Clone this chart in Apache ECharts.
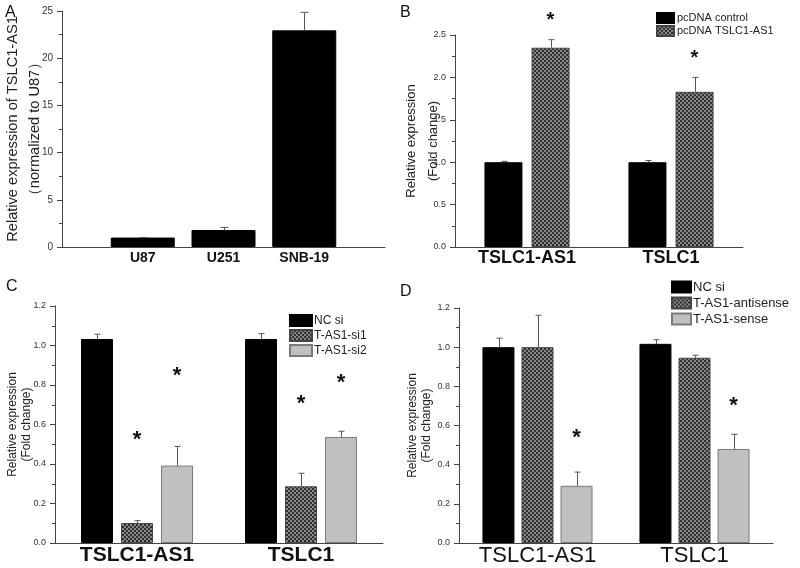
<!DOCTYPE html>
<html><head><meta charset="utf-8">
<script src="https://cdn.jsdelivr.net/npm/echarts@6/dist/echarts.min.js"></script>
<style>html,body{margin:0;padding:0;background:#fff}#c{width:800px;height:568px}</style>
</head><body><div id="c"></div>
<script>
// ---------- Panel A ----------
const catsA = ['U87', 'U251', 'SNB-19'];
const valsA = [1.0, 1.8, 22.95];
const errTopA = [1.0, 2.08, 24.86];
// ---------- Panel B ----------
const catsB = ['TSLC1-AS1', 'TSLC1'];
const namesB = ['pcDNA control', 'pcDNA TSLC1-AS1'];
const ctrlB = [1.0, 1.0];
const ctrlErrB = [1.01, 1.02];
const as1B = [2.35, 1.83];
const as1ErrB = [2.445, 2.0];
const starsB = [2.72, 2.27];
// ---------- Panel C ----------
const catsC = ['TSLC1-AS1', 'TSLC1'];
const namesC = ['NC si', 'T-AS1-si1', 'T-AS1-si2'];
const ncC = [1.033, 1.033];
const ncErrC = [1.057, 1.06];
const si1C = [0.101, 0.287];
const si1ErrC = [0.113, 0.353];
const si2C = [0.392, 0.537];
const si2ErrC = [0.489, 0.566];
const starsSi1C = [0.542, 0.726];
const starsSi2C = [0.869, 0.832];
// ---------- Panel D ----------
const catsD = ['TSLC1-AS1', 'TSLC1'];
const namesD = ['NC si', 'T-AS1-antisense', 'T-AS1-sense'];
const ncD = [1.0, 1.017];
const ncErrD = [1.046, 1.038];
const antiD = [1.0, 0.946];
const antiErrD = [1.163, 0.959];
const senseD = [0.292, 0.48];
const senseErrD = [0.362, 0.555];
const starsSenseD = [0.557, 0.722];

const FONT = '"Liberation Sans", Arial, sans-serif';

function checker() {
  const c = document.createElement('canvas');
  c.width = 4; c.height = 4;
  const g = c.getContext('2d');
  g.fillStyle = '#888888'; g.fillRect(0, 0, 4, 4);
  g.fillStyle = '#303030'; g.fillRect(0, 0, 2, 2); g.fillRect(2, 2, 2, 2);
  return c;
}
const PATTERN = { image: checker(), repeat: 'repeat' };
const BLACK = { color: '#000', borderColor: '#000', borderWidth: 1 };
const CHECK = { color: PATTERN, borderColor: '#444', borderWidth: 1 };
const GRAY = { color: '#c0c0c0', borderColor: '#7a7a7a', borderWidth: 1 };

function errSeries(idx, cats, vals, tops, offset, capW, shift) {
  return {
    type: 'custom', xAxisIndex: idx, yAxisIndex: idx, silent: true, z: 3,
    data: cats.map((c, i) => [i + (shift || 0), vals[i], tops[i]]),
    encode: { x: 0, y: [1, 2] },
    renderItem: function (params, api) {
      const lo = api.coord([api.value(0), api.value(1)]);
      const hi = api.coord([api.value(0), api.value(2)]);
      const x = Math.round(lo[0] + offset) + 0.5;
      const st = { stroke: '#555', lineWidth: 1 };
      return { type: 'group', children: [
        { type: 'line', shape: { x1: x, y1: lo[1], x2: x, y2: hi[1] }, style: st },
        { type: 'line', shape: { x1: x - capW / 2, y1: hi[1], x2: x + capW / 2, y2: hi[1] }, style: st }
      ]};
    }
  };
}
function starSeries(idx, cats, ys, offset, fs) {
  return {
    type: 'custom', xAxisIndex: idx, yAxisIndex: idx, silent: true, z: 4,
    data: cats.map((c, i) => [i, ys[i]]),
    encode: { x: 0, y: 1 },
    renderItem: function (params, api) {
      const p = api.coord([api.value(0), api.value(1)]);
      return { type: 'text', x: p[0] + offset, y: p[1] + fs * 0.2,
        style: { text: '*', fontSize: fs, fontWeight: 'bold', fontFamily: FONT, fill: '#111', align: 'center', verticalAlign: 'middle' } };
    }
  };
}
function yAx(idx, max, interval, dec, name, nameSize, lh, gap, labelSize) {
  return {
    gridIndex: idx, type: 'value', min: 0, max: max, interval: interval,
    name: name, nameLocation: 'middle', nameRotate: 90, nameGap: gap, nameMoveOverlap: false,
    nameTextStyle: { fontSize: nameSize, lineHeight: lh, fontFamily: FONT, color: '#222' },
    axisLine: { show: true, lineStyle: { color: '#444', width: 1 } },
    axisTick: { show: true, length: 5, lineStyle: { color: '#444' } },
    minorTick: { show: true, splitNumber: 2, length: 3, lineStyle: { color: '#444' } },
    splitLine: { show: false }, minorSplitLine: { show: false },
    axisLabel: { fontSize: labelSize, fontFamily: FONT, color: '#333', margin: 9,
      formatter: v => dec ? v.toFixed(dec) : String(v) }
  };
}
function xAx(idx, data, fs, bold, margin, boundaryGap) {
  return {
    gridIndex: idx, type: 'category', data: data, boundaryGap: boundaryGap,
    axisLine: { show: true, lineStyle: { color: '#444', width: 1 } },
    axisTick: { show: false }, splitLine: { show: false },
    axisLabel: { fontSize: fs, fontWeight: bold ? 'bold' : 'normal', fontFamily: FONT, color: '#111', margin: margin, interval: 0 }
  };
}

const chart = echarts.init(document.getElementById('c'), null, { renderer: 'canvas' });

const catsAPadded = [''].concat(catsA, ['']);
const valsAPadded = ['-'].concat(valsA, ['-']);

const series = [
  // A
  { type: 'bar', name: 'A', xAxisIndex: 0, yAxisIndex: 0, data: valsAPadded, barWidth: 64, itemStyle: BLACK },
  errSeries(0, catsA, valsA, errTopA, 0, 8, 1),
  // B
  { type: 'bar', name: namesB[0], xAxisIndex: 1, yAxisIndex: 1, data: ctrlB, barWidth: 38, barGap: '24%', itemStyle: BLACK },
  { type: 'bar', name: namesB[1], xAxisIndex: 1, yAxisIndex: 1, data: as1B, barWidth: 38, barGap: '24%', itemStyle: CHECK },
  errSeries(1, catsB, ctrlB, ctrlErrB, -23.5, 6),
  errSeries(1, catsB, as1B, as1ErrB, 23.5, 6),
  starSeries(1, catsB, starsB, 23.5, 20),
  // C
  { type: 'bar', name: namesC[0], xAxisIndex: 2, yAxisIndex: 2, data: ncC, barWidth: 32, barGap: '25%', itemStyle: BLACK },
  { type: 'bar', name: namesC[1], xAxisIndex: 2, yAxisIndex: 2, data: si1C, barWidth: 32, barGap: '25%', itemStyle: CHECK },
  { type: 'bar', name: namesC[2], xAxisIndex: 2, yAxisIndex: 2, data: si2C, barWidth: 32, barGap: '25%', itemStyle: GRAY },
  errSeries(2, catsC, ncC, ncErrC, -40, 6),
  errSeries(2, catsC, si1C, si1ErrC, 0, 6),
  errSeries(2, catsC, si2C, si2ErrC, 40, 6),
  starSeries(2, catsC, starsSi1C, 0, 22),
  starSeries(2, catsC, starsSi2C, 40, 22),
  // D
  { type: 'bar', name: namesD[0], xAxisIndex: 3, yAxisIndex: 3, data: ncD, barWidth: 32, barGap: '22%', itemStyle: BLACK },
  { type: 'bar', name: namesD[1], xAxisIndex: 3, yAxisIndex: 3, data: antiD, barWidth: 32, barGap: '22%', itemStyle: CHECK },
  { type: 'bar', name: namesD[2], xAxisIndex: 3, yAxisIndex: 3, data: senseD, barWidth: 32, barGap: '22%', itemStyle: GRAY },
  errSeries(3, catsD, ncD, ncErrD, -39, 6),
  errSeries(3, catsD, antiD, antiErrD, 0, 6),
  errSeries(3, catsD, senseD, senseErrD, 39, 6),
  starSeries(3, catsD, starsSenseD, 39, 22)
];

const option = {
  animation: false,
  backgroundColor: '#fff',
  textStyle: { fontFamily: FONT },
  grid: [
    { left: 62, top: 11, width: 323, height: 236 },
    { left: 455, top: 35, width: 288, height: 212 },
    { left: 55, top: 306, width: 328, height: 237 },
    { left: 459, top: 308, width: 314, height: 235 }
  ],
  xAxis: [
    xAx(0, catsAPadded, 14, true, 4, false),
    xAx(1, catsB, 18, true, 2, true),
    xAx(2, catsC, 21, true, 2, true),
    xAx(3, catsD, 22, false, 2, true)
  ],
  yAxis: [
    yAx(0, 25, 5, 0, 'Relative expression of TSLC1-AS1\n（normalized to U87）', 14.6, 22, 16, 10),
    yAx(1, 2.5, 0.5, 1, 'Relative expression\n(Fold change)', 13, 22, 11, 9),
    yAx(2, 1.2, 0.2, 1, 'Relative expression\n(Fold change)', 12, 14, 21, 9),
    yAx(3, 1.2, 0.2, 1, 'Relative expression\n(Fold change)', 12, 14, 25, 9)
  ],
  legend: [
    { data: namesB, orient: 'vertical', left: 656, top: 12, padding: 0, itemWidth: 17, itemHeight: 10, itemGap: 1, selectedMode: false, icon: 'rect',
      textStyle: { fontSize: 11, lineHeight: 11, fontFamily: FONT, color: '#222', padding: [0, 0, 0, -2] } },
    { data: namesC, orient: 'vertical', left: 289, top: 314, padding: 0, itemWidth: 22, itemHeight: 11, itemGap: 2, selectedMode: false, icon: 'rect',
      textStyle: { fontSize: 12, lineHeight: 12, fontFamily: FONT, color: '#222', padding: [0, 0, 0, -3] } },
    { data: namesD, orient: 'vertical', left: 671, top: 280, padding: 0, itemWidth: 19, itemHeight: 11, itemGap: 2, selectedMode: false, icon: 'rect',
      textStyle: { fontSize: 13, lineHeight: 14, fontFamily: FONT, color: '#222', padding: [0, 0, 0, -3] } }
  ],
  graphic: [
    { type: 'text', left: 5, top: 5, style: { text: 'A', fontSize: 16, fontFamily: FONT, fill: '#111' } },
    { type: 'text', left: 400, top: 5, style: { text: 'B', fontSize: 16, fontFamily: FONT, fill: '#111' } },
    { type: 'text', left: 6, top: 279, style: { text: 'C', fontSize: 16, fontFamily: FONT, fill: '#111' } },
    { type: 'text', left: 400, top: 284, style: { text: 'D', fontSize: 16, fontFamily: FONT, fill: '#111' } }
  ],
  series: series
};
chart.setOption(option);
</script>
</body></html>
